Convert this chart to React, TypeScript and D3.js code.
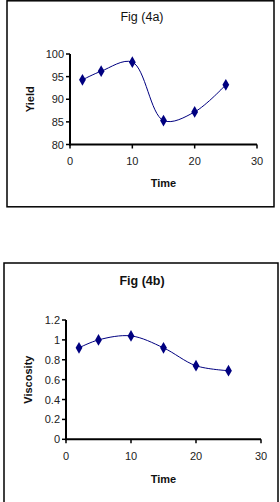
import { line, curveCatmullRom, scaleLinear, symbol, symbolDiamond } from "d3";

const times = [2, 5, 10, 15, 20, 25];
const yieldValues = [94.3, 96.2, 98.2, 85.3, 87.2, 93.2];
const viscosityValues = [0.92, 1.0, 1.04, 0.92, 0.74, 0.69];
const xTicks = [0, 10, 20, 30];
const yieldTicks = [80, 85, 90, 95, 100];
const viscosityTicks = [0, 0.2, 0.4, 0.6, 0.8, 1, 1.2];

const font = "'Liberation Sans', Arial, sans-serif";
const navy = "#000080";

type PanelProps = {
  title: string;
  titleBold: boolean;
  yLabel: string;
  values: number[];
  yTicks: number[];
  yDomain: [number, number];
  box: { x: number; y: number; w: number; h: number };
  plot: { left: number; right: number; top: number; bottom: number };
  titleY: number;
  yLabelX: number;
  tickLabelY: number;
  xLabelY: number;
  fmt: (v: number) => string;
};

function Panel(p: PanelProps) {
  const x = scaleLinear().domain([0, 30]).range([p.plot.left, p.plot.right]);
  const y = scaleLinear().domain(p.yDomain).range([p.plot.bottom, p.plot.top]);
  const pts = times.map((t, i) => [x(t), y(p.values[i])] as [number, number]);
  const path = line().curve(curveCatmullRom.alpha(0.5))(pts) ?? "";
  const diamond = symbol().type(symbolDiamond).size(40)() ?? "";
  const cx = (p.plot.left + p.plot.right) / 2;

  return (
    <g>
      <rect
        x={p.box.x}
        y={p.box.y}
        width={p.box.w}
        height={p.box.h}
        fill="#fff"
        stroke="#000"
        strokeWidth="1.5"
      />
      <text
        x={142}
        y={p.titleY}
        textAnchor="middle"
        fontSize="12.5"
        fontWeight={p.titleBold ? "700" : "400"}
        fill="#111"
      >
        {p.title}
      </text>

      {/* y axis */}
      <line x1={p.plot.left} x2={p.plot.left} y1={p.plot.top} y2={p.plot.bottom + 1} stroke="#000" strokeWidth="2" />
      {p.yTicks.map((t) => (
        <g key={t}>
          <line x1={p.plot.left - 4} x2={p.plot.left} y1={y(t)} y2={y(t)} stroke="#000" strokeWidth="1.5" />
          <text x={p.plot.left - 6} y={y(t) + 4} textAnchor="end" fontSize="11" fill="#222">
            {p.fmt(t)}
          </text>
        </g>
      ))}

      {/* x axis */}
      <line x1={p.plot.left - 1} x2={p.plot.right} y1={p.plot.bottom} y2={p.plot.bottom} stroke="#000" strokeWidth="2" />
      {xTicks.map((t) => (
        <g key={t}>
          <line x1={x(t)} x2={x(t)} y1={p.plot.bottom} y2={p.plot.bottom + 4} stroke="#000" strokeWidth="1.5" />
          <text x={x(t)} y={p.tickLabelY} textAnchor="middle" fontSize="11" fill="#222">
            {t}
          </text>
        </g>
      ))}

      <text
        transform={`translate(${p.yLabelX}, ${(p.plot.top + p.plot.bottom) / 2}) rotate(-90)`}
        textAnchor="middle"
        fontSize="11"
        fontWeight="700"
        fill="#111"
      >
        {p.yLabel}
      </text>
      <text x={cx} y={p.xLabelY} textAnchor="middle" fontSize="11" fontWeight="700" fill="#111">
        Time
      </text>

      <path d={path} fill="none" stroke={navy} strokeWidth="1" />
      {pts.map(([px, py], i) => (
        <path key={i} d={diamond} transform={`translate(${px}, ${py})`} fill={navy} />
      ))}
    </g>
  );
}

export default function App() {
  return (
    <div style={{ position: "absolute", top: 0, left: 0 }}>
      <svg width={280} height={502} style={{ display: "block", fontFamily: font }}>
        <rect width={280} height={502} fill="#fff" />
        <Panel
          title="Fig (4a)"
          titleBold={false}
          yLabel="Yield"
          values={yieldValues}
          yTicks={yieldTicks}
          yDomain={[80, 100]}
          box={{ x: 7, y: 0.8, w: 267, h: 206 }}
          plot={{ left: 70, right: 257, top: 54, bottom: 144.5 }}
          titleY={21}
          yLabelX={34}
          tickLabelY={165}
          xLabelY={187}
          fmt={(v) => String(v)}
        />
        <Panel
          title="Fig (4b)"
          titleBold={true}
          yLabel="Viscosity"
          values={viscosityValues}
          yTicks={viscosityTicks}
          yDomain={[0, 1.2]}
          box={{ x: 4, y: 263, w: 274, h: 245 }}
          plot={{ left: 66, right: 261, top: 320, bottom: 439.3 }}
          titleY={285}
          yLabelX={31.5}
          tickLabelY={460}
          xLabelY={483}
          fmt={(v) => String(Math.round(v * 10) / 10)}
        />
      </svg>
    </div>
  );
}
